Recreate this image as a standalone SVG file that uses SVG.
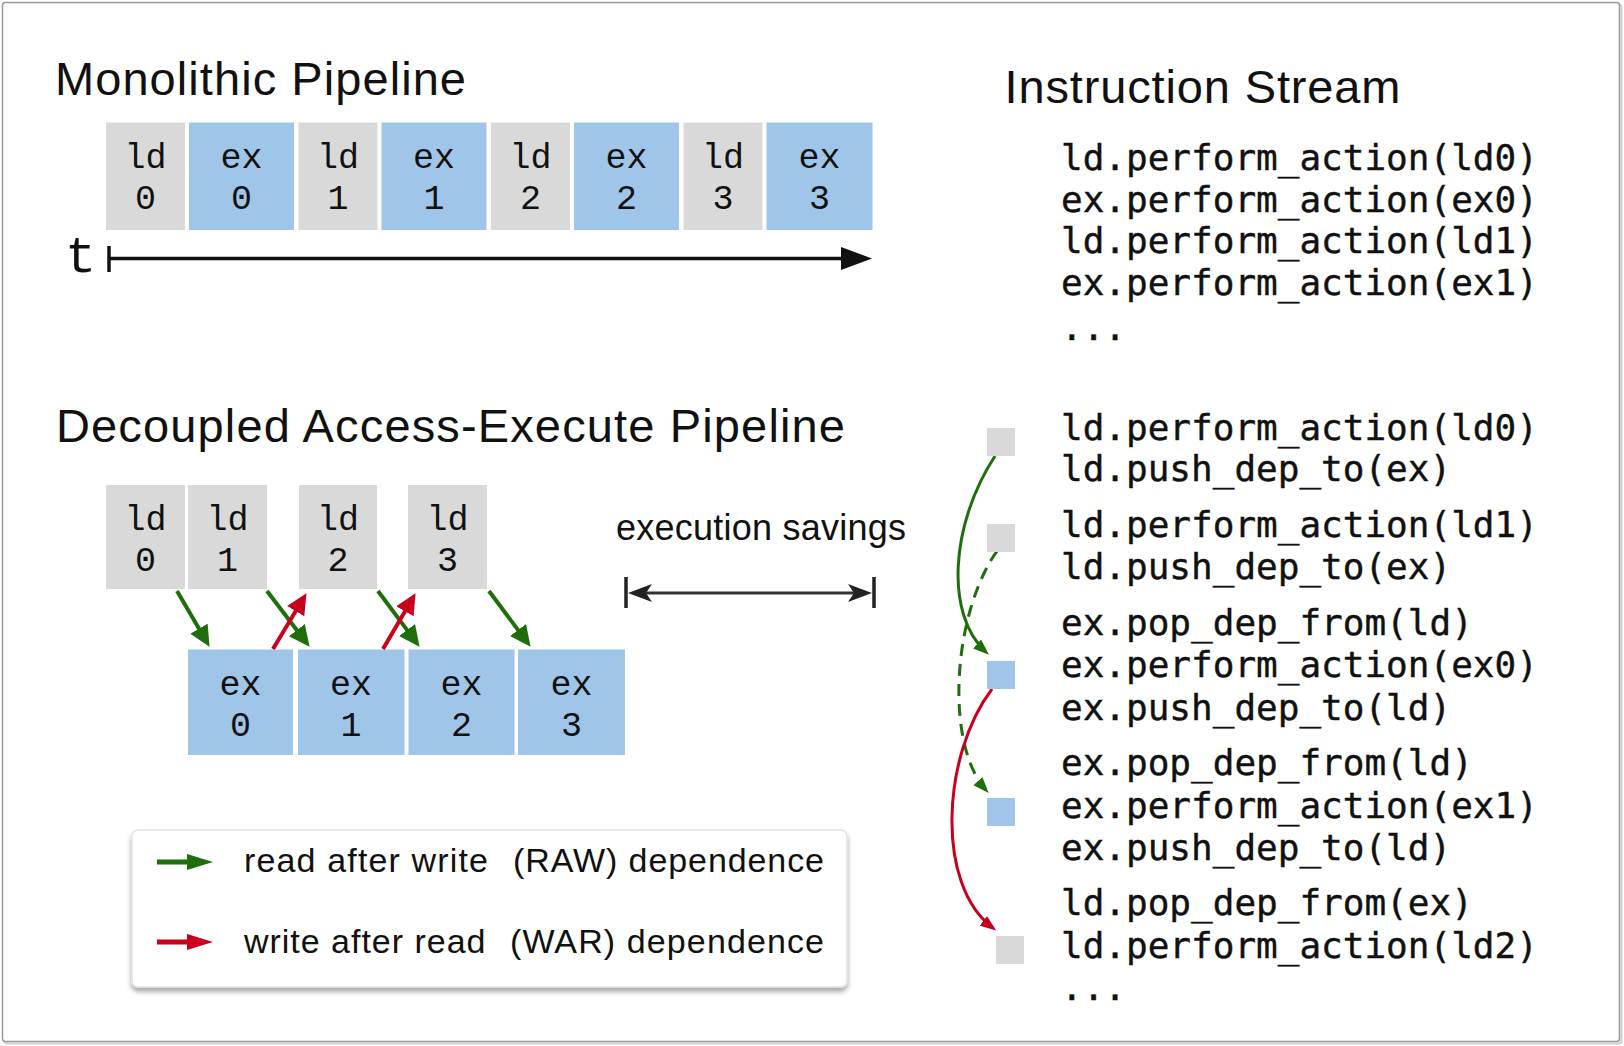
<svg xmlns="http://www.w3.org/2000/svg" width="1624" height="1046" viewBox="0 0 1624 1046">
<style>
.ttl{font-family:"Liberation Sans",Arial,sans-serif;font-size:47px;fill:#111}
.lg{font-family:"Liberation Sans",Arial,sans-serif;font-size:34px;fill:#111}
.bx{font-family:"Liberation Mono","Courier New",monospace;font-size:35px;fill:#111;text-anchor:middle}
.code{font-family:"DejaVu Sans Mono",monospace;font-size:36px;fill:#111;stroke:#111;stroke-width:0.4}
.gr{fill:#d9d9d9}
.bl{fill:#9fc5e8}
.ga{stroke:#1f6e0c;stroke-width:4;fill:none}
.ra{stroke:#c8001e;stroke-width:4;fill:none}
</style>
<defs>
<marker id="hg" markerUnits="userSpaceOnUse" markerWidth="24" markerHeight="22" refX="8" refY="10" orient="auto"><path d="M0,0 L21,10 L0,20 z" fill="#1f6e0c"/></marker>
<marker id="hr" markerUnits="userSpaceOnUse" markerWidth="24" markerHeight="22" refX="8" refY="10" orient="auto"><path d="M0,0 L21,10 L0,20 z" fill="#c8001e"/></marker>
<marker id="sg" markerUnits="userSpaceOnUse" markerWidth="18" markerHeight="14" refX="12" refY="6" orient="auto"><path d="M0,0 L16,6 L0,12 z" fill="#1f6e0c"/></marker>
<marker id="sr" markerUnits="userSpaceOnUse" markerWidth="18" markerHeight="14" refX="12" refY="6" orient="auto"><path d="M0,0 L16,6 L0,12 z" fill="#c8001e"/></marker>
<filter id="shd" x="-5%" y="-10%" width="110%" height="130%"><feDropShadow dx="0" dy="4" stdDeviation="2.5" flood-color="#000" flood-opacity="0.35"/></filter>
</defs>
<rect x="0" y="0" width="1624" height="1046" fill="#fff"/>
<rect x="4.5" y="4.5" width="1617" height="1039" rx="3" fill="none" stroke="#d0d0d0" stroke-width="2"/>
<rect x="2.5" y="2.5" width="1617" height="1039" rx="3" fill="#fff" stroke="#9a9a9a" stroke-width="1.5"/>

<text class="ttl" x="55" y="95" textLength="411">Monolithic Pipeline</text>
<text class="ttl" x="1004.5" y="103" textLength="396">Instruction Stream</text>
<text class="ttl" x="56" y="442" textLength="789">Decoupled Access-Execute Pipeline</text>

<g id="mono">
<g id="m-ld0"><rect class="gr" x="106" y="122.5" width="79" height="107.5"/><text class="bx" x="145.5" y="167.5">ld</text><text class="bx" x="145.5" y="208.5">0</text></g>
<g id="m-ex0"><rect class="bl" x="189" y="122.5" width="105" height="107.5"/><text class="bx" x="241.5" y="167.5">ex</text><text class="bx" x="241.5" y="208.5">0</text></g>
<g id="m-ld1"><rect class="gr" x="298.5" y="122.5" width="79" height="107.5"/><text class="bx" x="338" y="167.5">ld</text><text class="bx" x="338" y="208.5">1</text></g>
<g id="m-ex1"><rect class="bl" x="381.5" y="122.5" width="105" height="107.5"/><text class="bx" x="434" y="167.5">ex</text><text class="bx" x="434" y="208.5">1</text></g>
<g id="m-ld2"><rect class="gr" x="491" y="122.5" width="79" height="107.5"/><text class="bx" x="530.5" y="167.5">ld</text><text class="bx" x="530.5" y="208.5">2</text></g>
<g id="m-ex2"><rect class="bl" x="574" y="122.5" width="105" height="107.5"/><text class="bx" x="626.5" y="167.5">ex</text><text class="bx" x="626.5" y="208.5">2</text></g>
<g id="m-ld3"><rect class="gr" x="683.5" y="122.5" width="79" height="107.5"/><text class="bx" x="723" y="167.5">ld</text><text class="bx" x="723" y="208.5">3</text></g>
<g id="m-ex3"><rect class="bl" x="766.5" y="122.5" width="106" height="107.5"/><text class="bx" x="819.5" y="167.5">ex</text><text class="bx" x="819.5" y="208.5">3</text></g>
</g>

<g id="time-axis">
<text x="80.5" y="272" font-family="'Liberation Mono','Courier New',monospace" font-size="52" fill="#111" text-anchor="middle">t</text>
<line x1="109" y1="246" x2="109" y2="272" stroke="#111" stroke-width="3.5"/>
<line x1="109" y1="258.5" x2="845" y2="258.5" stroke="#111" stroke-width="3.5"/>
<path d="M872,258.5 L841,247 L841,270 z" fill="#111"/>
</g>

<g id="dae">
<g id="d-ld0"><rect class="gr" x="106" y="485" width="79" height="104"/><text class="bx" x="145.5" y="529.5">ld</text><text class="bx" x="145.5" y="571">0</text></g>
<g id="d-ld1"><rect class="gr" x="188" y="485" width="79" height="104"/><text class="bx" x="227.5" y="529.5">ld</text><text class="bx" x="227.5" y="571">1</text></g>
<g id="d-ld2"><rect class="gr" x="299" y="485" width="78" height="104"/><text class="bx" x="338" y="529.5">ld</text><text class="bx" x="338" y="571">2</text></g>
<g id="d-ld3"><rect class="gr" x="408" y="485" width="79" height="104"/><text class="bx" x="447.5" y="529.5">ld</text><text class="bx" x="447.5" y="571">3</text></g>
<g id="d-ex0"><rect class="bl" x="188" y="649.5" width="105" height="105.5"/><text class="bx" x="240.5" y="694.5">ex</text><text class="bx" x="240.5" y="736">0</text></g>
<g id="d-ex1"><rect class="bl" x="298" y="649.5" width="106.5" height="105.5"/><text class="bx" x="351" y="694.5">ex</text><text class="bx" x="351" y="736">1</text></g>
<g id="d-ex2"><rect class="bl" x="408.5" y="649.5" width="106" height="105.5"/><text class="bx" x="461.5" y="694.5">ex</text><text class="bx" x="461.5" y="736">2</text></g>
<g id="d-ex3"><rect class="bl" x="518" y="649.5" width="107" height="105.5"/><text class="bx" x="571.5" y="694.5">ex</text><text class="bx" x="571.5" y="736">3</text></g>
</g>

<g id="savings">
<text x="616" y="540" font-family="'Liberation Sans',Arial,sans-serif" font-size="36" fill="#111" textLength="290">execution savings</text>
<line x1="626" y1="577" x2="626" y2="608" stroke="#222" stroke-width="3.5"/>
<line x1="874" y1="577" x2="874" y2="608" stroke="#222" stroke-width="3.5"/>
<line x1="640" y1="593" x2="860" y2="593" stroke="#333" stroke-width="3"/>
<path d="M628,593 L652,584 L646,593 L652,602 z" fill="#222"/>
<path d="M872,593 L848,584 L854,593 L848,602 z" fill="#222"/>
</g>

<g id="connectors">
<line class="ga" x1="177" y1="591" x2="203" y2="635.6" marker-end="url(#hg)"/>
<line class="ga" x1="267" y1="591" x2="301.7" y2="636.5" marker-end="url(#hg)"/>
<line class="ga" x1="378" y1="591" x2="411.8" y2="636.4" marker-end="url(#hg)"/>
<line class="ga" x1="489" y1="591" x2="522.8" y2="636.4" marker-end="url(#hg)"/>
<line class="ra" x1="273" y1="649" x2="299.8" y2="604.3" marker-end="url(#hr)"/>
<line class="ra" x1="383" y1="649" x2="409" y2="604.4" marker-end="url(#hr)"/>
<path d="M995,456 C950,525 945,615 986,652" stroke="#1f6e0c" stroke-width="3" fill="none" marker-end="url(#sg)"/>
<path d="M997,551 C952,615 945,745 986,790" stroke="#1f6e0c" stroke-width="3" fill="none" stroke-dasharray="12,8" marker-end="url(#sg)"/>
<path d="M992,689 C942,755 935,885 993,928" stroke="#c8001e" stroke-width="3" fill="none" marker-end="url(#sr)"/>
</g>

<g id="stream-marks">
<rect class="gr" x="987" y="428" width="28" height="28"/>
<rect class="gr" x="987" y="524" width="28" height="28"/>
<rect class="bl" x="987" y="661" width="28" height="28"/>
<rect class="bl" x="987" y="798" width="28" height="28"/>
<rect class="gr" x="996" y="936" width="28" height="28"/>
</g>

<g id="stream-mono">
<text class="code" x="1061" y="170">ld.perform_action(ld0)</text>
<text class="code" x="1061" y="212">ex.perform_action(ex0)</text>
<text class="code" x="1061" y="253">ld.perform_action(ld1)</text>
<text class="code" x="1061" y="295">ex.perform_action(ex1)</text>
<text class="code" x="1061" y="340">...</text>
</g>

<g id="stream-dae">
<text class="code" x="1061" y="439.5">ld.perform_action(ld0)</text>
<text class="code" x="1061" y="481">ld.push_dep_to(ex)</text>
<text class="code" x="1061" y="537">ld.perform_action(ld1)</text>
<text class="code" x="1061" y="579">ld.push_dep_to(ex)</text>
<text class="code" x="1061" y="635">ex.pop_dep_from(ld)</text>
<text class="code" x="1061" y="677">ex.perform_action(ex0)</text>
<text class="code" x="1061" y="719.5">ex.push_dep_to(ld)</text>
<text class="code" x="1061" y="775">ex.pop_dep_from(ld)</text>
<text class="code" x="1061" y="817.5">ex.perform_action(ex1)</text>
<text class="code" x="1061" y="860">ex.push_dep_to(ld)</text>
<text class="code" x="1061" y="915">ld.pop_dep_from(ex)</text>
<text class="code" x="1061" y="957.5">ld.perform_action(ld2)</text>
<text class="code" x="1061" y="1000">...</text>
</g>

<g id="legend">
<rect x="132" y="830" width="715" height="157" rx="6" fill="#fff" stroke="#e2e2e2" stroke-width="1.5" filter="url(#shd)"/>
<line x1="157" y1="862" x2="190" y2="862" stroke="#1f6e0c" stroke-width="5"/>
<path d="M213,862 L187,854 L187,870 z" fill="#1f6e0c"/>
<line x1="157" y1="942" x2="190" y2="942" stroke="#c8001e" stroke-width="5"/>
<path d="M213,942 L187,934 L187,950 z" fill="#c8001e"/>
<text class="lg" x="244" y="872" textLength="244">read after write</text>
<text class="lg" x="513" y="872" textLength="311">(RAW) dependence</text>
<text class="lg" x="244" y="953" textLength="241.5">write after read</text>
<text class="lg" x="510" y="953" textLength="314">(WAR) dependence</text>
</g>
</svg>
